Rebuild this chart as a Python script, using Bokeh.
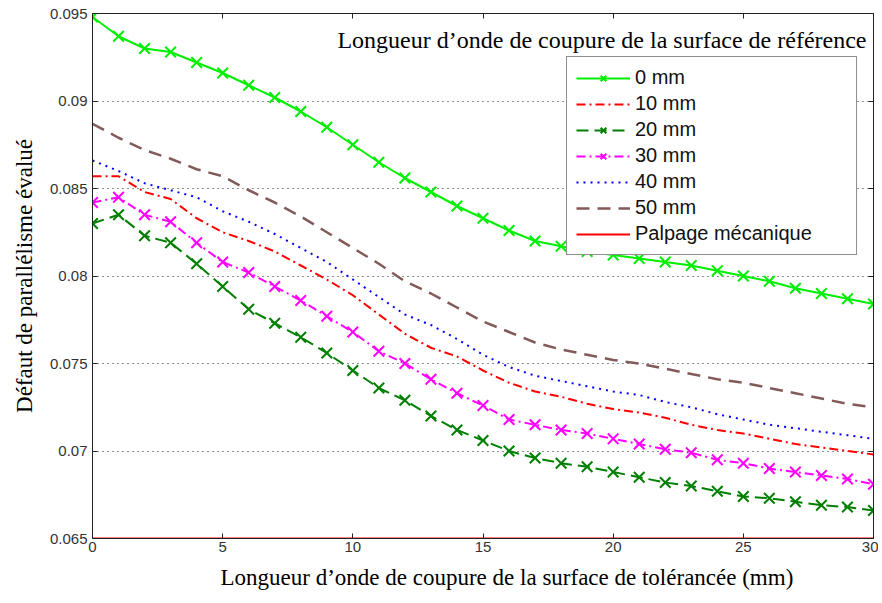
from bokeh.plotting import figure
from bokeh.models import (Range1d, FixedTicker, CustomJSTickFormatter, LinearAxis,
                          Legend, LegendItem, Label, Title)
from bokeh.embed import file_html
from bokeh.resources import INLINE

# ---- data ----
x_mm = list(range(31))
s_0mm = [0.0948, 0.0937, 0.0930, 0.0928, 0.0922, 0.0916, 0.0909, 0.0902, 0.0894, 0.0885,
         0.0875, 0.0865, 0.0856, 0.0848, 0.0840, 0.0833, 0.0826, 0.0820, 0.0817, 0.0814,
         0.0812, 0.0810, 0.0808, 0.0806, 0.0803, 0.0800, 0.0797, 0.0793, 0.0790, 0.0787, 0.0784]
s_10mm = [0.0857, 0.0857, 0.0848, 0.0844, 0.0833, 0.0825, 0.0820, 0.0814, 0.0806, 0.0798,
          0.0789, 0.0778, 0.0767, 0.0759, 0.0754, 0.0746, 0.0739, 0.0734, 0.0731, 0.0727,
          0.0724, 0.0722, 0.0719, 0.0715, 0.0712, 0.0710, 0.0707, 0.0704, 0.0702, 0.0700, 0.0698]
s_20mm = [0.0830, 0.0835, 0.0823, 0.0819, 0.0807, 0.0794, 0.0781, 0.0773, 0.0765, 0.0756,
          0.0746, 0.0736, 0.0729, 0.0720, 0.0712, 0.0706, 0.0700, 0.0696, 0.0693, 0.0691,
          0.0688, 0.0685, 0.0682, 0.0680, 0.0677, 0.0674, 0.0673, 0.0671, 0.0669, 0.0668, 0.0666]
s_30mm = [0.0842, 0.0845, 0.0835, 0.0831, 0.0819, 0.0808, 0.0802, 0.0794, 0.0786, 0.0777,
          0.0768, 0.0757, 0.0750, 0.0741, 0.0733, 0.0726, 0.0718, 0.0715, 0.0712, 0.0710,
          0.0707, 0.0704, 0.0701, 0.0699, 0.0695, 0.0693, 0.0690, 0.0688, 0.0686, 0.0684, 0.0681]
s_40mm = [0.0866, 0.0860, 0.0853, 0.0849, 0.0845, 0.0837, 0.0831, 0.0824, 0.0816, 0.0808,
          0.0798, 0.0788, 0.0778, 0.0772, 0.0764, 0.0755, 0.0748, 0.0743, 0.0740, 0.0737,
          0.0734, 0.0732, 0.0728, 0.0725, 0.0721, 0.0718, 0.0715, 0.0713, 0.0711, 0.0709, 0.0707]
s_50mm = [0.0887, 0.0879, 0.0872, 0.0867, 0.0861, 0.0857, 0.0849, 0.0842, 0.0834, 0.0825,
          0.0816, 0.0807, 0.0797, 0.0790, 0.0782, 0.0774, 0.0768, 0.0762, 0.0758, 0.0755,
          0.0752, 0.0750, 0.0747, 0.0744, 0.0741, 0.0739, 0.0736, 0.0733, 0.0730, 0.0727, 0.0725]
palpage_x = [0, 30]
palpage_y = [0.065, 0.065]

x_ticks = [0, 5, 10, 15, 20, 25, 30]
y_ticks = [0.065, 0.07, 0.075, 0.08, 0.085, 0.09, 0.095]

series_labels = ["0 mm", "10 mm", "20 mm", "30 mm", "40 mm", "50 mm", "Palpage mécanique"]

SERIF = "Liberation Serif"
SANS = "Liberation Sans"

p = figure(frame_width=781, frame_height=525, output_backend="svg", toolbar_location=None,
           x_range=Range1d(0, 30), y_range=Range1d(0.065, 0.095),
           min_border_left=92, min_border_right=5, min_border_top=13, min_border_bottom=4,
           background_fill_color="white", border_fill_color="white")
p.outline_line_color = "#222222"
p.xgrid.visible = False
p.ygrid.grid_line_color = "#222222"
p.ygrid.grid_line_dash = "1 4"
p.ygrid.grid_line_width = 1

p.add_layout(LinearAxis(), "right")
p.add_layout(LinearAxis(), "above")

fmt = CustomJSTickFormatter(code="return String(Math.round(tick*1000)/1000)")
blank = CustomJSTickFormatter(code="return ''")
for ax in p.xaxis + p.yaxis:
    ax.major_tick_in = 5
    ax.major_tick_out = 0
    ax.minor_tick_in = 0
    ax.minor_tick_out = 0
    ax.axis_line_color = "#222222"
    ax.major_tick_line_color = "#222222"
    ax.major_label_text_font = SANS
    ax.major_label_text_font_size = "15px"
    ax.major_label_text_color = "#333333"
for ax in p.xaxis:
    ax.ticker = FixedTicker(ticks=x_ticks)
for ax in p.yaxis:
    ax.ticker = FixedTicker(ticks=y_ticks)
    ax.formatter = fmt
for ax in (p.right[0], p.above[0]):
    ax.formatter = blank
    ax.major_label_standoff = 0

p.below[0].major_label_standoff = 3
p.left[0].major_label_standoff = 5

p.left[0].axis_label = "Défaut de parallélisme évalué"
p.left[0].axis_label_text_font = SERIF
p.left[0].axis_label_text_font_size = "23px"
p.left[0].axis_label_text_font_style = "normal"
p.left[0].axis_label_text_color = "black"
p.left[0].axis_label_standoff = 10

xlabel = Title(text="Longueur d’onde de coupure de la surface de tolérancée (mm)",
               align="left", offset=128, text_font=SERIF, text_font_size="23px",
               text_font_style="normal", text_color="black", standoff=16)
p.add_layout(xlabel, "below")

r_pal = p.line(palpage_x, palpage_y, line_color="#FF0000", line_width=2)
r0 = p.line(x_mm, s_0mm, line_color="#00EE00", line_width=2)
m0 = p.scatter(x_mm, s_0mm, marker="x", size=15, line_color="#00EE00", line_width=2)
r10 = p.line(x_mm, s_10mm, line_color="#FF0000", line_width=2, line_dash="9 4 2 4")
r20 = p.line(x_mm, s_20mm, line_color="#007F00", line_width=2, line_dash="12 6")
m20 = p.scatter(x_mm, s_20mm, marker="x", size=15, line_color="#007F00", line_width=2)
r30 = p.line(x_mm, s_30mm, line_color="#FF00FF", line_width=2, line_dash="9 4 2 4")
m30 = p.scatter(x_mm, s_30mm, marker="x", size=15, line_color="#FF00FF", line_width=2)
r40 = p.line(x_mm, s_40mm, line_color="#0000FF", line_width=2, line_dash="2 5")
r50 = p.line(x_mm, s_50mm, line_color="#835A5A", line_width=2.5, line_dash="13 8")

legend = Legend(items=[
    LegendItem(label=series_labels[0], renderers=[r0, m0]),
    LegendItem(label=series_labels[1], renderers=[r10]),
    LegendItem(label=series_labels[2], renderers=[r20, m20]),
    LegendItem(label=series_labels[3], renderers=[r30, m30]),
    LegendItem(label=series_labels[4], renderers=[r40]),
    LegendItem(label=series_labels[5], renderers=[r50]),
    LegendItem(label=series_labels[6], renderers=[r_pal]),
], location=(474, 283))
legend.label_text_font = SANS
legend.label_text_font_size = "20px"
legend.label_text_color = "#111111"
legend.glyph_width = 54
legend.glyph_height = 20
legend.label_height = 20
legend.label_width = 212
legend.spacing = 3
legend.padding = 9
legend.margin = 0
legend.label_standoff = 5
legend.border_line_color = "#222222"
legend.border_line_width = 1
legend.background_fill_alpha = 1
p.add_layout(legend, "center")

title_in = Label(x=774, y=499, x_units="screen", y_units="screen",
                 text="Longueur d’onde de coupure de la surface de référence",
                 text_align="right", text_baseline="middle", text_font=SERIF,
                 text_font_size="24px", text_color="black")
p.add_layout(title_in)

open("out.html", "w").write(file_html(p, INLINE))
